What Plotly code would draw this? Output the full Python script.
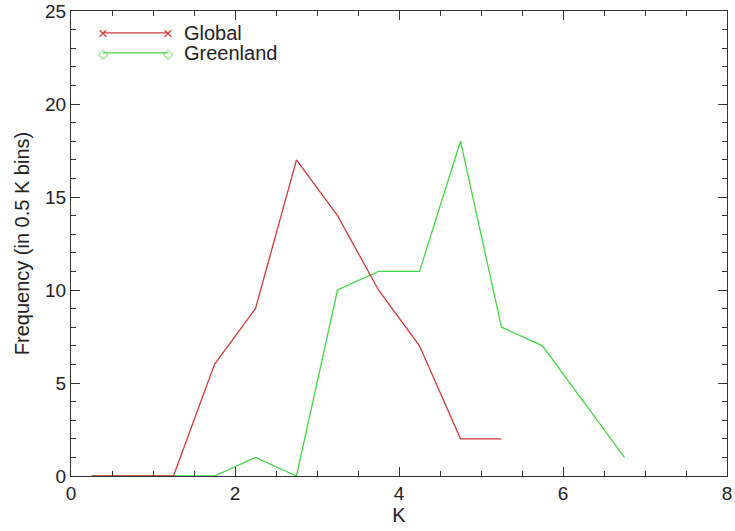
import plotly.graph_objects as go

bin_centers = [0.25, 0.75, 1.25, 1.75, 2.25, 2.75, 3.25, 3.75, 4.25, 4.75, 5.25, 5.75, 6.25, 6.75]
global_counts = [0, 0, 0, 6, 9, 17, 14, 10, 7, 2, 2]
greenland_counts = [0, 0, 0, 0, 1, 0, 10, 11, 11, 18, 8, 7, 4, 1]

red = "rgb(205,60,60)"
green = "rgb(70,215,70)"

fig = go.Figure()
fig.add_trace(go.Scatter(x=bin_centers[:len(greenland_counts)], y=greenland_counts,
                         mode="lines", line=dict(color=green, width=1.3), name="Greenland"))
fig.add_trace(go.Scatter(x=bin_centers[:len(global_counts)], y=global_counts,
                         mode="lines", line=dict(color=red, width=1.3), name="Global"))

tick_font = dict(family="Liberation Sans, Arial, sans-serif", size=19, color="#222")
font = dict(family="Liberation Sans, Arial, sans-serif", size=20, color="#222")

axis_common = dict(showgrid=False, zeroline=False, showline=True, linecolor="#333", linewidth=1,
                   mirror="ticks", ticks="inside", tickcolor="#333", tickfont=tick_font,
                   automargin=False)

fig.update_xaxes(range=[0, 8], dtick=2, ticklen=9, title=dict(text="K", font=font, standoff=0),
                 minor=dict(dtick=0.5, ticks="inside", ticklen=5, tickcolor="#333"), **axis_common)
fig.update_yaxes(range=[0, 25], dtick=5, ticklen=9,
                 title=dict(text="Frequency (in 0.5 K bins)", font=font, standoff=10),
                 minor=dict(dtick=1, ticks="inside", ticklen=5, tickcolor="#333"), **axis_common)

# custom IDL-style legend
legend_items = [("Global", red, "×", 0.953), ("Greenland", green, "◇", 0.910)]
shapes = []
annotations = []
x0p, x1p = (103 - 71) / 656, (168 - 71) / 656
for name, col, sym, yp in legend_items:
    shapes.append(dict(type="line", xref="paper", yref="paper", x0=x0p, x1=x1p, y0=yp, y1=yp,
                       line=dict(color=col, width=1.3)))
    for xp in (x0p, x1p):
        annotations.append(dict(xref="paper", yref="paper", x=xp, y=yp, text=sym, showarrow=False,
                                font=dict(size=17 if sym == "×" else 13, color=col),
                                xanchor="center", yanchor="middle", height=16))
    annotations.append(dict(xref="paper", yref="paper", x=(182 - 71) / 656, y=yp, text=name,
                            showarrow=False, font=font, xanchor="left", yanchor="middle",
                            height=18, valign="middle"))

fig.update_layout(width=735, height=531, margin=dict(l=71, r=8, t=11, b=55),
                  plot_bgcolor="white", paper_bgcolor="white", showlegend=False,
                  shapes=shapes, annotations=annotations, font=font)

fig.write_html("out.html")
